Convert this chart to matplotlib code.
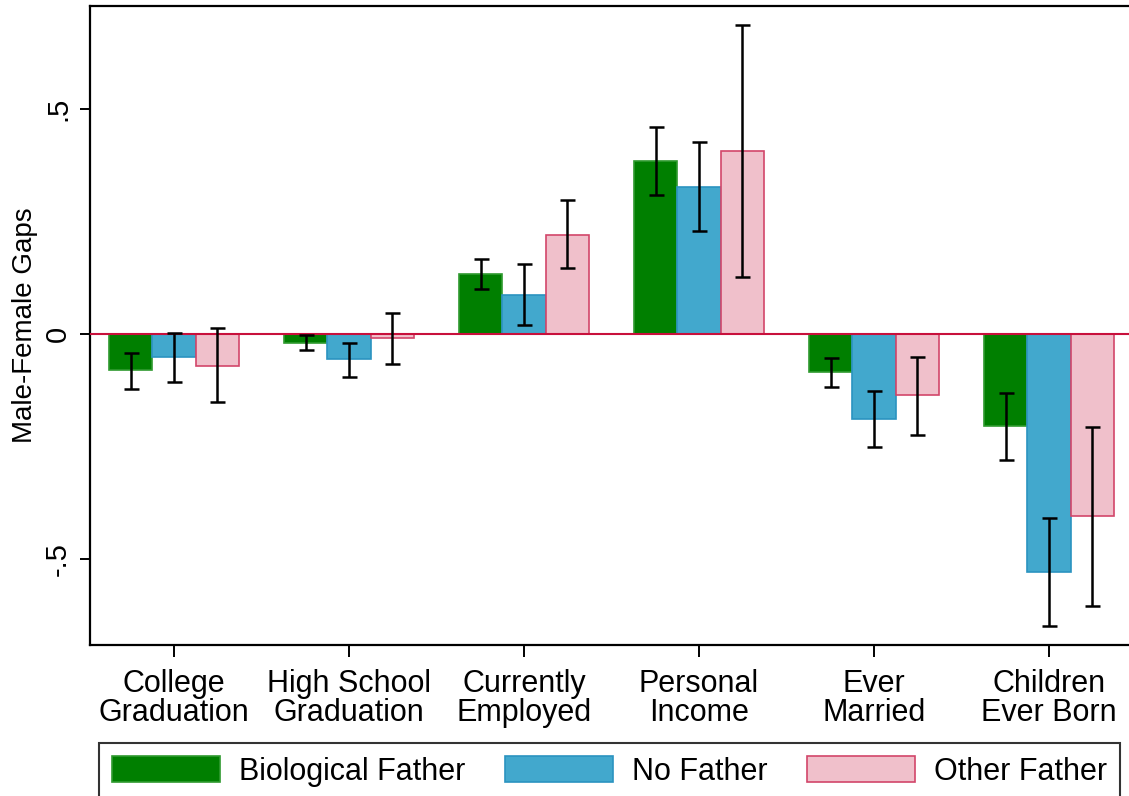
import numpy as np
import matplotlib.pyplot as plt

# outcome categories and estimates (male - female gaps) with 95% CI bounds
categories = ['College\nGraduation', 'High School\nGraduation', 'Currently\nEmployed',
              'Personal\nIncome', 'Ever\nMarried', 'Children\nEver Born']
series = ['Biological Father', 'No Father', 'Other Father']

bio = [-0.080, -0.019, 0.133, 0.384, -0.085, -0.205]
bio_lo = [-0.122, -0.036, 0.101, 0.308, -0.117, -0.279]
bio_hi = [-0.041, -0.003, 0.167, 0.461, -0.054, -0.130]

nofa = [-0.052, -0.056, 0.087, 0.326, -0.188, -0.528]
nofa_lo = [-0.107, -0.095, 0.021, 0.230, -0.252, -0.648]
nofa_hi = [0.002, -0.020, 0.155, 0.427, -0.126, -0.408]

other = [-0.070, -0.009, 0.221, 0.407, -0.135, -0.404]
other_lo = [-0.152, -0.066, 0.146, 0.127, -0.224, -0.605]
other_hi = [0.013, 0.047, 0.297, 0.687, -0.050, -0.207]

plt.rcParams['font.family'] = ['Liberation Sans', 'DejaVu Sans']

fig = plt.figure(figsize=(11.29, 7.96), dpi=100)
ax = fig.add_axes([90 / 1129, 151 / 796, 1 - 90 / 1129, (645 - 6) / 796])

x = np.arange(len(categories))
w = 0.248
fills = ['#007f00', '#42a8cd', '#f0c0cb']
edges = ['#2f9a2f', '#2b93c0', '#d2466a']
vals = [bio, nofa, other]
los = [bio_lo, nofa_lo, other_lo]
his = [bio_hi, nofa_hi, other_hi]

for i in range(3):
    v = np.array(vals[i])
    err = [v - np.array(los[i]), np.array(his[i]) - v]
    ax.bar(x + (i - 1) * w, v, w, color=fills[i], edgecolor=edges[i], linewidth=1.2,
           label=series[i], zorder=2)
    ax.errorbar(x + (i - 1) * w, v, yerr=err, fmt='none', ecolor='black',
                elinewidth=1.8, capsize=5.4, capthick=1.8, zorder=4)

ax.axhline(0, color='#c8103c', lw=1.5, zorder=3)

ax.set_xlim(-0.48, 5.457)
ax.set_ylim(-0.691, 0.729)
ax.set_xticks(x)
ax.set_xticklabels(categories, fontsize=22, linespacing=0.95)
ax.set_yticks([-0.5, 0, 0.5])
ax.set_yticklabels(['-.5', '0', '.5'], fontsize=21, rotation=90, va='center')
ax.set_ylabel('Male-Female Gaps', fontsize=20, labelpad=4)

ax.tick_params(axis='x', length=8.6, width=1.4, pad=9)
ax.tick_params(axis='y', length=7, width=1.4, pad=6)
for s in ['left', 'bottom', 'top']:
    ax.spines[s].set_linewidth(1.6)
ax.spines['right'].set_visible(False)

fig.legend(loc='upper left', bbox_to_anchor=(99 / 1129, 1 - 743 / 796), ncol=3,
           fontsize=22, frameon=True, fancybox=False, edgecolor='black',
           handlelength=3.53, handleheight=0.95, handletextpad=0.62,
           columnspacing=1.3, borderaxespad=0, borderpad=0.42)
fig.legends[0].get_frame().set_linewidth(1.5)

fig.savefig('out.png', dpi=100)
